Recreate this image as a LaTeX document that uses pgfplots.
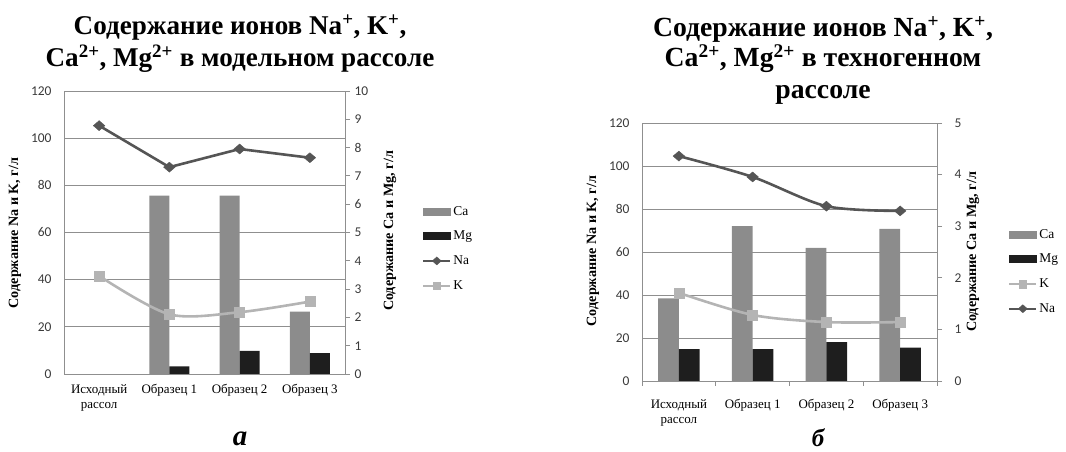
\documentclass[border=0pt]{standalone}
\usepackage{fontspec}
\setmainfont{Liberation Serif}
\newfontfamily\carlito{Carlito}
\usepackage{pgfplots}
\pgfplotsset{compat=1.18}
\definecolor{caC}{HTML}{8C8C8C}
\definecolor{mgC}{HTML}{1E1E1E}
\definecolor{naC}{HTML}{555555}
\definecolor{kC}{HTML}{B4B4B4}
\definecolor{gridC}{HTML}{8F8F8F}
\definecolor{tickC}{HTML}{3A3A3A}
\pgfplotsset{
  common/.style={scale only axis, anchor=south west, xmin=-0.5, xmax=3.5, ymin=0,
    axis line style={gridC, line width=0.8bp},
    tick style={gridC, line width=0.8bp},
    tick label style={font=\carlito\fontsize{13.5}{14}\selectfont, text=tickC},
    /pgf/number format/assume math mode=true},
  leftaxis/.style={common, ytick={0,20,...,120}, ymax=120, ymajorgrids,
    grid style={gridC, line width=0.8bp}, ytick style={draw=none},
    yticklabel pos=left, yticklabel style={xshift=-9bp},
    xtick={0,1,2,3},
    xticklabels={{Исходный\\рассол},Образец 1,Образец 2,Образец 3},
    xticklabel style={font=\fontsize{13}{15}\selectfont, text=black, align=center},
    xtick style={draw=none}},
  lineaxis/.style={common, ymax=120, hide axis, clip=false},
  swatch/.style={legend image code/.code={\fill[#1] (0bp,-3.5bp) rectangle (27bp,3.5bp);}},
  naleg/.style={legend image code/.code={\draw[naC, line width=2.2bp, mark=diamond*, mark size=4bp, mark options={xscale=1.5, fill=naC, draw=naC, line width=0.4bp}, mark repeat=2, mark phase=2] plot coordinates {(0bp,0bp)(13.5bp,0bp)(27bp,0bp)};}},
  kleg/.style={legend image code/.code={\draw[kC, line width=2.2bp, mark=square*, mark size=3.8bp, mark options={fill=kC, draw=kC, line width=0.4bp}, mark repeat=2, mark phase=2] plot coordinates {(0bp,0bp)(13.5bp,0bp)(27bp,0bp)};}},
  legstyle/.style={legend style={at={(axis description cs:#1)}, anchor=west, draw=none, fill=none,
    font=\fontsize{13.5}{14}\selectfont, row sep=10.5bp, inner sep=0pt,
    /tikz/every even column/.style={column sep=1bp}}, legend cell align=left},
  naplot/.style={naC, line width=2.6bp, mark=diamond*, mark size=5bp,
    mark options={xscale=1.55, fill=naC, draw=naC, line width=0.4bp}},
  kplot/.style={kC, line width=2.6bp, mark=square*, mark size=5bp,
    mark options={fill=kC, draw=kC, line width=0.4bp}},
}
\begin{document}
\begin{tikzpicture}[x=1bp,y=1bp]
\useasboundingbox (0,0) rectangle (1066,452);
% ---------------- panel a ----------------
\begin{axis}[leftaxis, at={(64bp,78bp)}, width=281bp, height=283bp, xticklabel style={yshift=-7bp}]
\end{axis}
\begin{axis}[common, at={(64bp,78bp)}, width=281bp, height=283bp, ymax=10, ytick={0,...,10},
  axis y line*=right, axis x line=none, tick align=outside, major tick length=5bp,
  yticklabel style={xshift=1bp}, ybar=0pt, bar width=20bp]
\addplot[fill=caC, draw=none] coordinates {(1,6.3) (2,6.3) (3,2.2)};
\addplot[fill=mgC, draw=none] coordinates {(1,0.27) (2,0.82) (3,0.74)};
\end{axis}
\begin{axis}[lineaxis, at={(64bp,78bp)}, width=281bp, height=283bp, legstyle={1.274,0.4435}]
\addplot[naplot, forget plot] coordinates {(0,105.3) (1,87.7) (2,95.4) (3,91.7)};
\addplot[kplot, smooth, forget plot] coordinates {(0,41.6) (1,25.3) (2,26.2) (3,30.7)};
\addlegendimage{swatch=caC}\addlegendentry{Ca}
\addlegendimage{swatch=mgC}\addlegendentry{Mg}
\addlegendimage{naleg}\addlegendentry{Na}
\addlegendimage{kleg}\addlegendentry{K}
\end{axis}
\node[anchor=base, font=\bfseries\fontsize{27.2}{30}\selectfont] at (240,417) {Содержание ионов Na\textsuperscript{+}, K\textsuperscript{+},};
\node[anchor=base, font=\bfseries\fontsize{27.2}{30}\selectfont] at (240,385) {Ca\textsuperscript{2+}, Mg\textsuperscript{2+} в модельном рассоле};
\node[rotate=90, font=\bfseries\fontsize{14.2}{15}\selectfont] at (15,219) {Содержание Na и K, г/л};
\node[rotate=90, font=\bfseries\fontsize{14.2}{15}\selectfont] at (390,221) {Содержание Ca и Mg, г/л};
\node[anchor=base, inner sep=0pt, font=\bfseries\itshape\fontsize{29}{29}\selectfont] at (240,6) {а};
% ---------------- panel b ----------------
\begin{axis}[leftaxis, at={(642bp,71bp)}, width=295bp, height=258bp, xticklabel style={yshift=-15bp}]
\end{axis}
\begin{axis}[common, at={(642bp,71bp)}, width=295bp, height=258bp, ymax=5, ytick={0,...,5},
  axis y line*=right, axis x line*=bottom, xtick={-0.5,0.5,...,3.5}, xticklabels={},
  tick align=outside, major tick length=5bp,
  yticklabel style={xshift=9bp}, ybar=0pt, bar width=20.7bp]
\addplot[fill=caC, draw=none] coordinates {(0,1.6) (1,3.0) (2,2.58) (3,2.95)};
\addplot[fill=mgC, draw=none] coordinates {(0,0.62) (1,0.62) (2,0.755) (3,0.645)};
\end{axis}
\begin{axis}[lineaxis, at={(642bp,71bp)}, width=295bp, height=258bp, legstyle={1.2407,0.4244}]
\addplot[naplot, smooth, forget plot] coordinates {(0,104.6) (1,94.9) (2,81.3) (3,79.1)};
\addplot[kplot, smooth, forget plot] coordinates {(0,41) (1,30.7) (2,27.4) (3,27.4)};
\addlegendimage{swatch=caC}\addlegendentry{Ca}
\addlegendimage{swatch=mgC}\addlegendentry{Mg}
\addlegendimage{kleg}\addlegendentry{K}
\addlegendimage{naleg}\addlegendentry{Na}
\end{axis}
\node[anchor=base, font=\bfseries\fontsize{27.8}{30}\selectfont] at (823,415.3) {Содержание ионов Na\textsuperscript{+}, K\textsuperscript{+},};
\node[anchor=base, font=\bfseries\fontsize{27.8}{30}\selectfont] at (823,385.3) {Ca\textsuperscript{2+}, Mg\textsuperscript{2+} в техногенном};
\node[anchor=base, font=\bfseries\fontsize{27.8}{30}\selectfont] at (823,353.7) {рассоле};
\node[rotate=90, font=\bfseries\fontsize{14.2}{15}\selectfont] at (593,201) {Содержание Na и K, г/л};
\node[rotate=90, font=\bfseries\fontsize{14.2}{15}\selectfont] at (973,200) {Содержание Ca и Mg, г/л};
\node[anchor=base, inner sep=0pt, font=\bfseries\itshape\fontsize{25}{25}\selectfont] at (818,5) {б};
\end{tikzpicture}
\end{document}
